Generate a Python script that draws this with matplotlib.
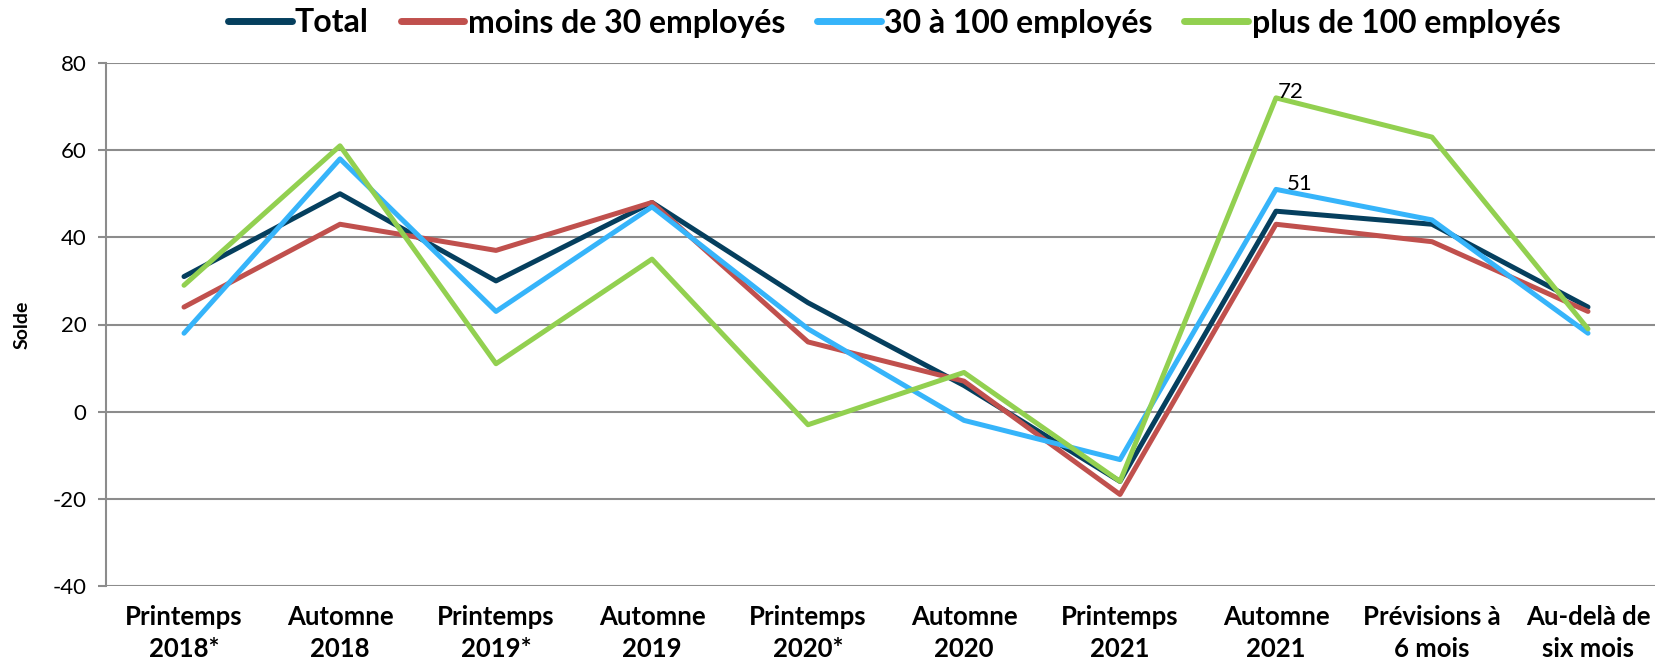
import matplotlib
matplotlib.use('Agg')
import matplotlib.pyplot as plt

plt.rcParams['font.family'] = ['Lato', 'DejaVu Sans']
plt.rcParams['axes.unicode_minus'] = False

periods = ['Printemps\n2018*', 'Automne\n2018', 'Printemps\n2019*', 'Automne\n2019',
           'Printemps\n2020*', 'Automne\n2020', 'Printemps\n2021', 'Automne\n2021',
           'Prévisions à\n6 mois', 'Au-delà de\nsix mois']

total = [31, 50, 30, 48, 25, 6, -16, 46, 43, 24]
moins_30 = [24, 43, 37, 48, 16, 7, -19, 43, 39, 23]
de_30_a_100 = [18, 58, 23, 47, 19, -2, -11, 51, 44, 18]
plus_100 = [29, 61, 11, 35, -3, 9, -16, 72, 63, 19]

series = [
    ('Total', total, '#053F5E'),
    ('moins de 30 employés', moins_30, '#C0504D'),
    ('30 à 100 employés', de_30_a_100, '#36B4FA'),
    ('plus de 100 employés', plus_100, '#92D050'),
]

fig = plt.figure(figsize=(16.56, 6.72), dpi=100)
ax = fig.add_axes([106 / 1656, 1 - 586 / 672, 1560 / 1656, 523 / 672])

x = range(len(periods))
for name, vals, col in series:
    ax.plot(x, vals, color=col, lw=3.6, label=name, solid_capstyle='round', zorder=3)

# data labels on Automne 2021
i = 7
ax.annotate(str(plus_100[i]), (i, plus_100[i]), xytext=(1, -3), textcoords='offset points',
            fontsize=16, va='bottom', ha='left')
ax.annotate(str(de_30_a_100[i]), (i, de_30_a_100[i]), xytext=(8, -3), textcoords='offset points',
            fontsize=16, va='bottom', ha='left')

ax.set_xlim(-0.5, len(periods) - 0.5)
ax.set_ylim(-40, 80)
ax.set_yticks(range(-40, 81, 20))
ax.yaxis.grid(True, color='#8C8C8C', lw=1.5, zorder=0)
ax.set_axisbelow(True)
for s in ['top', 'right', 'bottom']:
    ax.spines[s].set_visible(False)
ax.spines['left'].set_color('#8C8C8C')
ax.spines['left'].set_linewidth(1.5)
ax.tick_params(axis='y', length=6, width=1.5, color='#8C8C8C', labelsize=16, pad=8)
ax.tick_params(axis='x', length=0, pad=14)
ax.set_xticks(list(x))
ax.set_xticklabels(periods, fontsize=18.5, fontweight='bold', linespacing=1.4)
ax.set_ylabel('Solde', fontsize=14, fontweight='bold', labelpad=16)

ax.legend(loc='center', bbox_to_anchor=(894 / 1656, 1 - 23 / 672), bbox_transform=fig.transFigure,
          ncol=4, frameon=False, prop={'size': 23, 'weight': 'bold'},
          handlelength=2.0, handletextpad=0.1, columnspacing=1.0)
for h in ax.get_legend().get_lines():
    h.set_linewidth(5)

fig.savefig('out.png', dpi=100)
